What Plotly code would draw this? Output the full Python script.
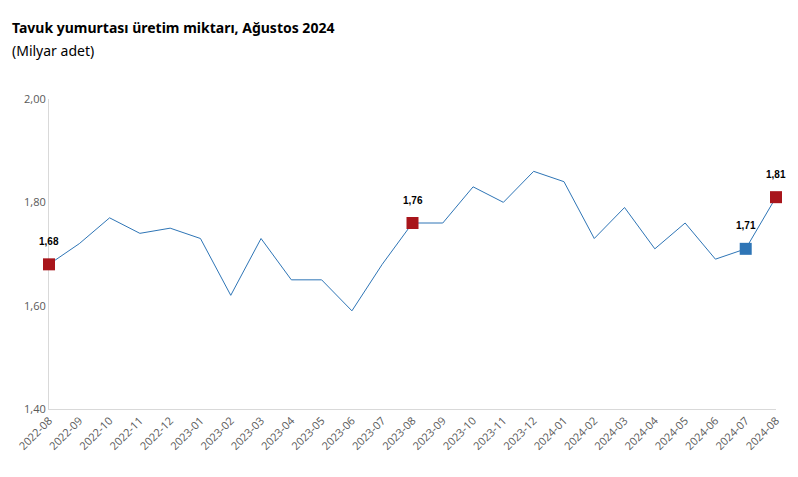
import plotly.graph_objects as go

months = ["2022-08","2022-09","2022-10","2022-11","2022-12","2023-01","2023-02","2023-03",
          "2023-04","2023-05","2023-06","2023-07","2023-08","2023-09","2023-10","2023-11",
          "2023-12","2024-01","2024-02","2024-03","2024-04","2024-05","2024-06","2024-07","2024-08"]
values = [1.68,1.72,1.77,1.74,1.75,1.73,1.62,1.73,1.65,1.65,1.59,1.68,1.76,1.76,1.83,1.80,
          1.86,1.84,1.73,1.79,1.71,1.76,1.69,1.71,1.81]
red_months = ["2022-08","2023-08","2024-08"]
blue_months = ["2024-07"]
y_ticks = [1.40, 1.60, 1.80, 2.00]

LINE = "#2e75b6"
RED = "#a8151b"
BLUE = "#2e75b6"

fig = go.Figure()
fig.add_trace(go.Scatter(x=months, y=values, mode="lines", cliponaxis=False,
                         line=dict(color=LINE, width=1), hoverinfo="skip"))
red_vals = [values[months.index(m)] for m in red_months]
blue_vals = [values[months.index(m)] for m in blue_months]
fig.add_trace(go.Scatter(x=red_months, y=red_vals, mode="markers", cliponaxis=False,
                         marker=dict(symbol="square", size=12, color=RED)))
fig.add_trace(go.Scatter(x=blue_months, y=blue_vals, mode="markers", cliponaxis=False,
                         marker=dict(symbol="square", size=12, color=BLUE)))

for m, v in zip(red_months + blue_months, red_vals + blue_vals):
    fig.add_annotation(x=m, y=v, text="<b>" + f"{v:.2f}".replace(".", ",") + "</b>",
                       showarrow=False, yshift=23,
                       font=dict(size=10, color="#000000", family="Liberation Sans"))

W, L, R, T, B, H = 798, 49, 22, 99, 68, 477
pw = W - L - R
ph = H - T - B
fig.add_annotation(xref="paper", yref="paper", x=(10 - L) / pw, y=(H - B - 27) / ph,
                   xanchor="left", yanchor="middle", showarrow=False,
                   text="<b>Tavuk yumurtası üretim miktarı, Ağustos 2024</b>",
                   font=dict(size=14, color="#000000", family="Noto Sans, Open Sans, sans-serif"))
fig.add_annotation(xref="paper", yref="paper", x=(10 - L) / pw, y=(H - B - 50) / ph,
                   xanchor="left", yanchor="middle", showarrow=False,
                   text="(Milyar adet)",
                   font=dict(size=14, color="#000000", family="Noto Sans, Open Sans, sans-serif"))

fig.update_layout(
    width=W, height=H,
    margin=dict(l=L, r=R, t=T, b=B),
    paper_bgcolor="white", plot_bgcolor="white",
    showlegend=False,
    separators=",.",
    font=dict(family="Open Sans, Noto Sans, sans-serif", color="#595959"),
    xaxis=dict(type="category", range=[0, 24], tickangle=-45, layer="below traces",
               showgrid=False, showline=True, linecolor="#d9d9d9", linewidth=1,
               ticks="", tickfont=dict(size=11, color="#595959"), zeroline=False),
    yaxis=dict(range=[1.40, 2.00], tickvals=y_ticks, tickformat=".2f", layer="below traces",
               showgrid=False, showline=True, linecolor="#d9d9d9", linewidth=1,
               ticks="", tickfont=dict(size=11, color="#595959"), zeroline=False),
)
fig.write_html("out.html")
